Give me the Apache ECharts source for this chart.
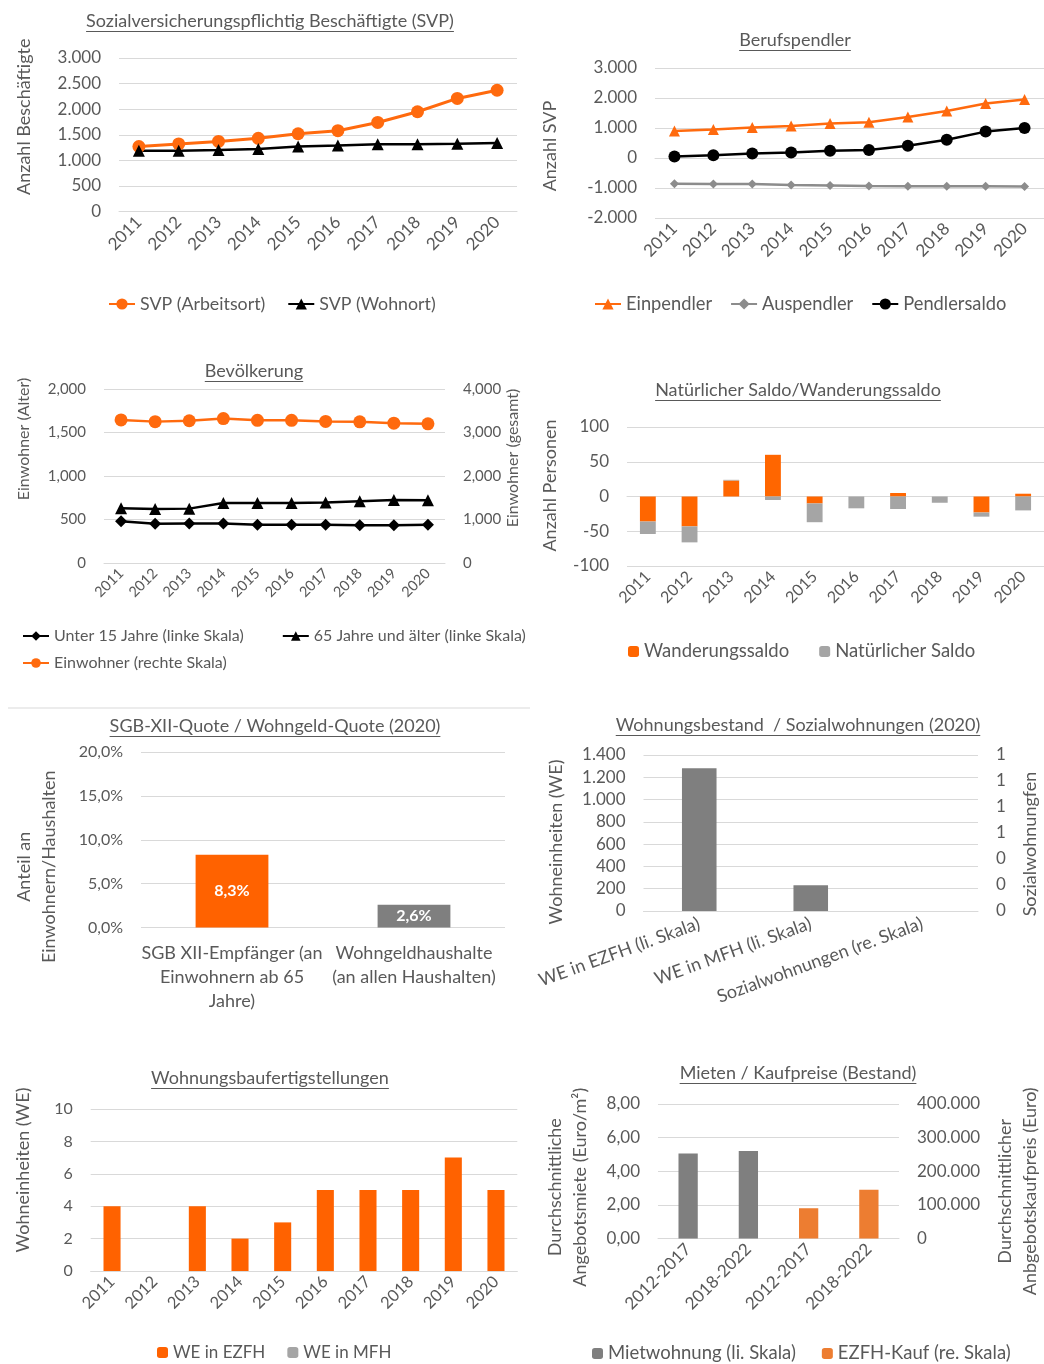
<!DOCTYPE html>
<html><head><meta charset="utf-8">
<script src="https://cdn.jsdelivr.net/npm/echarts@6/dist/echarts.min.js"></script>
<style>html,body{margin:0;padding:0;background:#fff}#c{width:1044px;height:1364px}</style>
</head><body><div id="c"></div>
<script>
// ---------- data ----------
const years = ['2011','2012','2013','2014','2015','2016','2017','2018','2019','2020'];
const svpArbeitsort = [1270,1320,1370,1430,1520,1580,1740,1950,2210,2370];
const svpWohnort = [1185,1185,1200,1220,1270,1290,1315,1315,1325,1340];
const einpendler = [900,950,1020,1070,1150,1190,1370,1570,1820,1950];
const auspendler = [-860,-865,-870,-900,-915,-930,-940,-945,-945,-950];
const pendlersaldo = [50,90,150,180,240,270,410,610,880,1000];
const unter15 = [480,450,455,455,440,440,440,435,435,440];
const ab65 = [630,620,625,690,690,690,695,710,725,720];
const einwohner = [3290,3250,3270,3320,3280,3280,3255,3245,3215,3200];
const wanderungssaldo = [-36,-43,23,60,-10,0,5,0,-23,4];
const natuerlicherSaldo = [-18,-23,1,-5,-27,-17,-18,-9,-6,-20];
const quoteKategorien = ['SGB XII-Empfänger (an\nEinwohnern ab 65\nJahre)','Wohngeldhaushalte\n(an allen Haushalten)'];
const quoteWerte = [8.3, 2.6];
const bestandKategorien = ['WE in EZFH (li. Skala)','WE in MFH (li. Skala)','Sozialwohnungen (re. Skala)'];
const bestandWE = [1280, 230, null];
const sozialwohnungen = [null, null, 0];
const weEZFH = [4,0,4,2,3,5,5,5,7,5];
const weMFH = [0,0,0,0,0,0,0,0,0,0];
const preisKategorien = ['2012-2017','2018-2022','2012-2017','2018-2022'];
const mietwohnung = [5.05, 5.2, null, null];
const ezfhKauf = [null, null, 90000, 145000];

const titles = [
  {text:'Sozialversicherungspflichtig Beschäftigte (SVP)', x:270, y:21},
  {text:'Berufspendler', x:795, y:40},
  {text:'Bevölkerung', x:254, y:371},
  {text:'Natürlicher Saldo/Wanderungssaldo', x:798, y:390},
  {text:'SGB-XII-Quote / Wohngeld-Quote (2020)', x:275, y:726},
  {text:'Wohnungsbestand  / Sozialwohnungen (2020)', x:798, y:725},
  {text:'Wohnungsbaufertigstellungen', x:270, y:1078},
  {text:'Mieten / Kaufpreise (Bestand)', x:798, y:1073}
];

// ---------- styles ----------
const FONT = 'Lato, "Noto Sans", sans-serif';
const TXT = '#595959';
const GRID = '#D9D9D9';
const OR = '#FF6A0E';
const OR2 = '#ED7D31';
const GR = '#7F7F7F';
const GR2 = '#A5A5A5';
const TFS = 18;

function de(v){ const s = Math.abs(v).toFixed(0).replace(/\B(?=(\d{3})+(?!\d))/g,'.'); return (v<0?'-':'')+s; }
function en(v){ return v.toFixed(0).replace(/\B(?=(\d{3})+(?!\d))/g,','); }
function shiftPad(s){ return s>0 ? [0,0,0,2*s] : [0,-2*s,0,0]; } // s>0 shift up

function xCat(gi, data, fs, rot, extra){
  return Object.assign({type:'category', gridIndex:gi, data:data, boundaryGap:true,
    axisLine:{show:true, lineStyle:{color:GRID, width:1}}, axisTick:{show:false},
    axisLabel:{rotate:rot, fontSize:fs, color:TXT, fontFamily:FONT, margin:8, interval:0},
    splitLine:{show:false}}, extra||{});
}
function yVal(gi, min, max, iv, fmt, fs, name, gap, shift, extra){
  return Object.assign({type:'value', gridIndex:gi, min:min, max:max, interval:iv,
    axisLine:{show:false}, axisTick:{show:false},
    axisLabel:{formatter:fmt, fontSize:fs, color:TXT, fontFamily:FONT, margin:18},
    splitLine:{show:true, lineStyle:{color:GRID, width:1}},
    name:name, nameLocation:'middle', nameGap:gap,
    nameTextStyle:{fontSize:18, color:TXT, fontFamily:FONT, padding:shiftPad(shift||0), lineHeight:25}}, extra||{});
}
function legend(left, top, data, fs, iw, ih, gap){
  return {left:left, top:top, data:data, padding:0, itemGap:gap, itemWidth:iw, itemHeight:ih,
    textStyle:{fontSize:fs, color:TXT, fontFamily:FONT}, selectedMode:false};
}
function lineS(name, xi, yi, data, color, sym, size, w){
  return {type:'line', name:name, xAxisIndex:xi, yAxisIndex:yi, data:data, symbol:sym, symbolSize:size,
    lineStyle:{color:color, width:w}, itemStyle:{color:color}, animation:false, z:3};
}

// ---------- title graphics (text + underline) ----------
const ctx = document.createElement('canvas').getContext('2d');
ctx.font = TFS + 'px ' + FONT;
const graphics = [];
titles.forEach(t => {
  const w = ctx.measureText(t.text).width;
  graphics.push({type:'text', x:t.x, y:t.y, style:{text:t.text, fill:TXT, font:TFS+'px '+FONT, textAlign:'center', textVerticalAlign:'middle'}});
  graphics.push({type:'line', shape:{x1:t.x-w/2, y1:t.y+10.5, x2:t.x+w/2, y2:t.y+10.5}, style:{stroke:TXT, lineWidth:1}});
});
graphics.push({type:'line', shape:{x1:8, y1:708, x2:530, y2:708}, style:{stroke:GRID, lineWidth:1}});

const chart = echarts.init(document.getElementById('c'), null, {renderer:'canvas'});
const option = {
  backgroundColor:'#fff',
  animation:false,
  textStyle:{fontFamily:FONT},
  graphic:graphics,
  grid:[
    {left:119, top:58, width:398, height:153.5},
    {left:655, top:68, width:389, height:150},
    {left:104, top:389, width:341, height:174},
    {left:627, top:427, width:417, height:139},
    {left:141, top:752, width:364, height:175.5},
    {left:643.5, top:755, width:345, height:156},
    {left:90.7, top:1109, width:426.6, height:162},
    {left:658, top:1104, width:249.5, height:134.5}
  ],
  legend:[
    legend(108, 295, ['SVP (Arbeitsort)','SVP (Wohnort)'], 17.8, 26, 14, 22),
    legend(594, 295, ['Einpendler','Auspendler','Pendlersaldo'], 18.3, 26, 14, 18),
    legend(22, 628, ['Unter 15 Jahre (linke Skala)','65 Jahre und älter (linke Skala)'], 16, 26, 12, 38),
    legend(22, 655, ['Einwohner (rechte Skala)'], 16, 26, 12, 20),
    legend(628, 642, ['Wanderungssaldo','Natürlicher Saldo'], 18.5, 11, 11, 30),
    legend(157, 1344, ['WE in EZFH','WE in MFH'], 17, 11, 11, 22),
    legend(592, 1344, ['Mietwohnung (li. Skala)','EZFH-Kauf (re. Skala)'], 18.5, 11, 11, 26)
  ],
  xAxis:[
    xCat(0, years, 17, 45),
    xCat(1, years, 17, 45),
    xCat(2, years, 14.5, 45),
    xCat(3, years, 16, 45),
    xCat(4, quoteKategorien, 18, 0, {axisLine:{show:false}, axisLabel:{fontSize:18, color:TXT, fontFamily:FONT, lineHeight:24, margin:14, interval:0}}),
    xCat(5, bestandKategorien, 18, 20, {axisLabel:{rotate:20, fontSize:18, color:TXT, fontFamily:FONT, margin:12, interval:0}}),
    xCat(6, years, 16.5, 45),
    xCat(7, preisKategorien, 17, 45)
  ],
  yAxis:[
    yVal(0, 0, 3000, 500, de, 17, 'Anzahl Beschäftigte', 82, 18),
    yVal(1, -2000, 3000, 1000, de, 17, 'Anzahl SVP', 92, -3),
    yVal(2, 0, 2000, 500, en, 15, 'Einwohner (Alter)', 72, 37, {nameTextStyle:{fontSize:16, color:TXT, fontFamily:FONT, padding:shiftPad(37)}}),
    yVal(2, 0, 4000, 1000, en, 15, 'Einwohner (gesamt)', 57, 18, {position:'right', splitLine:{show:false}, nameTextStyle:{fontSize:16, color:TXT, fontFamily:FONT, padding:shiftPad(18)}}),
    yVal(3, -100, 100, 50, v=>v.toFixed(0), 17, 'Anzahl Personen', 64, 11),
    yVal(4, 0, 20, 5, v=>v.toFixed(1).replace('.',',')+'%', 16, 'Anteil an\nEinwohnern/Haushalten', 79, -27),
    yVal(5, 0, 1400, 200, de, 17, 'Wohneinheiten (WE)', 75, -9),
    yVal(5, 0, 1.2, 0.2, v=>Math.round(v).toString(), 17, 'Sozialwohnungfen', 40, -11, {position:'right', splitLine:{show:false}}),
    yVal(6, 0, 10, 2, v=>v.toFixed(0), 16, 'Wohneinheiten (WE)', 55, 20),
    yVal(7, 0, 8, 2, v=>v.toFixed(2).replace('.',','), 17, 'Durchschnittliche\nAngebotsmiete (Euro/m²)', 65, -16),
    yVal(7, 0, 400000, 100000, de, 17, 'Durchschnittlicher\nAnbgebotskaufpreis (Euro)', 94, -20, {position:'right', splitLine:{show:false}})
  ],
  series:[
    lineS('SVP (Arbeitsort)', 0, 0, svpArbeitsort, OR, 'circle', 13, 3),
    lineS('SVP (Wohnort)', 0, 0, svpWohnort, '#000', 'triangle', 12, 2.5),
    lineS('Einpendler', 1, 1, einpendler, OR, 'triangle', 11, 2.5),
    lineS('Auspendler', 1, 1, auspendler, '#8C8C8C', 'diamond', 9, 2.5),
    lineS('Pendlersaldo', 1, 1, pendlersaldo, '#000', 'circle', 12, 2.5),
    lineS('Unter 15 Jahre (linke Skala)', 2, 2, unter15, '#000', 'diamond', 12, 2.5),
    lineS('65 Jahre und älter (linke Skala)', 2, 2, ab65, '#000', 'triangle', 12, 2.5),
    lineS('Einwohner (rechte Skala)', 2, 3, einwohner, OR, 'circle', 13, 2.5),
    {type:'bar', name:'Wanderungssaldo', xAxisIndex:3, yAxisIndex:4, data:wanderungssaldo, stack:'s4', barWidth:'38%', itemStyle:{color:'#FF6600'}},
    {type:'bar', name:'Natürlicher Saldo', xAxisIndex:3, yAxisIndex:4, data:natuerlicherSaldo, stack:'s4', barWidth:'38%', itemStyle:{color:GR2}},
    {type:'bar', name:'Quote', xAxisIndex:4, yAxisIndex:5, barWidth:'40%',
      data:quoteWerte.map((v,i)=>({value:v, itemStyle:{color:i===0?'#FF6200':GR}})),
      label:{show:true, position:'inside', color:'#fff', fontWeight:'bold', fontSize:16, fontFamily:FONT,
        formatter:p=>p.value.toFixed(1).replace('.',',')+'%'}},
    {type:'bar', name:'WE', xAxisIndex:5, yAxisIndex:6, data:bestandWE, barWidth:'31%', barGap:'-100%', itemStyle:{color:GR}},
    {type:'bar', name:'Sozialwohnungen', xAxisIndex:5, yAxisIndex:7, data:sozialwohnungen, barWidth:'31%', barGap:'-100%', itemStyle:{color:GR2}},
    {type:'bar', name:'WE in EZFH', xAxisIndex:6, yAxisIndex:8, data:weEZFH, stack:'s7', barWidth:'40%', itemStyle:{color:'#FF6200'}},
    {type:'bar', name:'WE in MFH', xAxisIndex:6, yAxisIndex:8, data:weMFH, stack:'s7', barWidth:'40%', itemStyle:{color:GR2}},
    {type:'bar', name:'Mietwohnung (li. Skala)', xAxisIndex:7, yAxisIndex:9, data:mietwohnung, barWidth:'32%', barGap:'-100%', itemStyle:{color:GR}},
    {type:'bar', name:'EZFH-Kauf (re. Skala)', xAxisIndex:7, yAxisIndex:10, data:ezfhKauf, barWidth:'32%', barGap:'-100%', itemStyle:{color:OR2}}
  ]
};
chart.setOption(option);
</script></body></html>
